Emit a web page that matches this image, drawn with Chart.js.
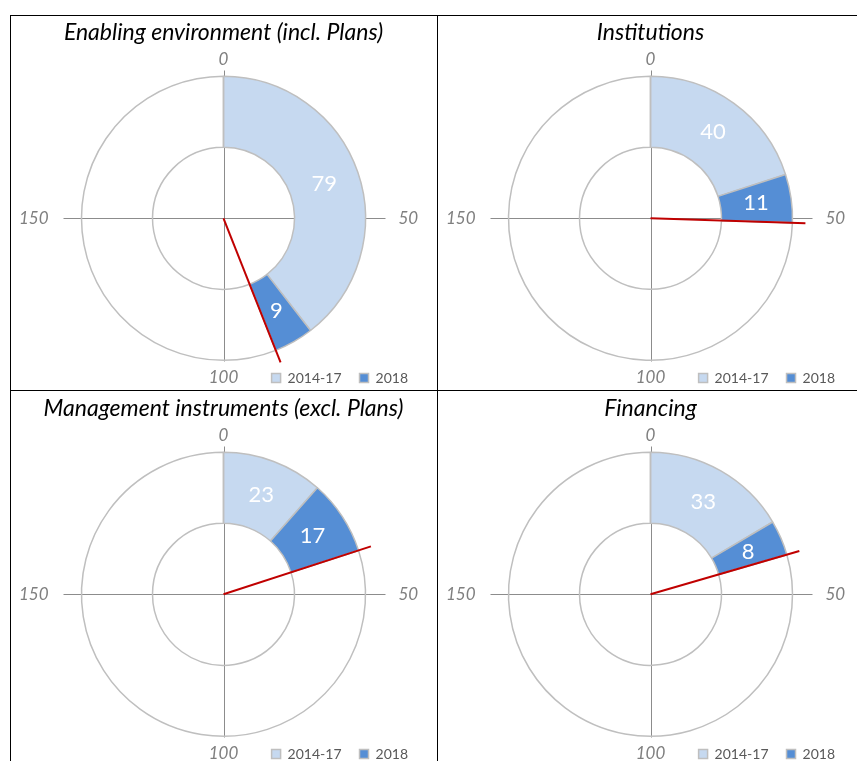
<!DOCTYPE html>
<html>
<head>
<meta charset="utf-8">
<script src="https://cdn.jsdelivr.net/npm/chart.js@4.4.1/dist/chart.umd.min.js"></script>
<style>
  html, body { margin: 0; padding: 0; background: #fff; overflow: hidden; width: 857px; height: 761px; }
  .rule { position: absolute; background: #000; }
  canvas { position: absolute; }
</style>
</head>
<body>
<div class="rule" style="left:10px;top:15px;width:847px;height:1px"></div>
<div class="rule" style="left:10px;top:390px;width:847px;height:1px"></div>
<div class="rule" style="left:10px;top:15px;width:1px;height:746px"></div>
<div class="rule" style="left:437px;top:15px;width:1px;height:746px"></div>

<canvas id="c0" width="427" height="375" style="left:10px;top:15px"></canvas>
<canvas id="c1" width="427" height="375" style="left:437px;top:15px"></canvas>
<canvas id="c2" width="427" height="375" style="left:10px;top:391px"></canvas>
<canvas id="c3" width="427" height="375" style="left:437px;top:391px"></canvas>

<script>
// ---- data ----
const panelTitles = [
    'Enabling environment (incl. Plans)',
    'Institutions',
    'Management instruments (excl. Plans)',
    'Financing'
];
const seriesLabels = ['2014-17', '2018'];
const values2014to17 = [79, 40, 23, 33];
const values2018 = [9, 11, 17, 8];
const markerValues = [88, 51, 40, 41];   // red needle
const scaleMax = 200;                    // one full turn
const tickValues = [0, 50, 100, 150];

// ---- style ----
const FONT = 'Lato, "Open Sans", sans-serif';
const LIGHT = '#c6d9f0';
const DARK = '#558ed5';
const EDGE = '#bfbfbf';
const AXIS = '#8c8c8c';
const RED = '#c00000';

function angleOf(v) {
    return v / scaleMax * Math.PI * 2 - Math.PI / 2;
}

// axis cross, needle, value labels and tick labels around the ring
const gaugeDecor = {
    id: 'gaugeDecor',
    beforeDatasetsDraw(chart) {
        const arc = chart.getDatasetMeta(0).data[0];
        const r = arc.outerRadius;
        const cx = Math.round(arc.x) + 0.5, cy = Math.round(arc.y) + 0.5;
        const ctx = chart.ctx;
        ctx.save();
        ctx.strokeStyle = AXIS;
        ctx.lineWidth = 1;
        ctx.beginPath();
        ctx.moveTo(cx, cy - r - 6);
        ctx.lineTo(cx, cy + r + 1);
        ctx.moveTo(cx - r - 19, cy);
        ctx.lineTo(cx + r + 19, cy);
        ctx.stroke();
        ctx.restore();
    },
    afterDatasetsDraw(chart, args, opts) {
        const meta = chart.getDatasetMeta(0);
        const arc = meta.data[0];
        const r = arc.outerRadius;
        const cx = arc.x, cy = arc.y;
        const ctx = chart.ctx;
        ctx.save();

        // values inside the two coloured segments
        ctx.fillStyle = '#fff';
        ctx.font = '22px ' + FONT;
        ctx.textAlign = 'center';
        ctx.textBaseline = 'middle';
        const vals = chart.data.datasets[0].data;
        for (let i = 0; i < 2; i++) {
            const p = meta.data[i].tooltipPosition();
            ctx.fillText(String(vals[i]), p.x, p.y);
        }

        // needle
        const a = angleOf(opts.marker);
        ctx.strokeStyle = RED;
        ctx.lineWidth = 2;
        ctx.beginPath();
        ctx.moveTo(cx, cy);
        ctx.lineTo(cx + Math.cos(a) * (r + 13), cy + Math.sin(a) * (r + 13));
        ctx.stroke();

        // tick labels
        ctx.fillStyle = '#7f7f7f';
        ctx.font = 'italic 17px ' + FONT;
        tickValues.forEach(t => {
            const ta = angleOf(t);
            const c = Math.cos(ta), s = Math.sin(ta);
            const side = Math.abs(c) > 0.5;
            const d = side ? r + 33 : r + 17;
            ctx.textAlign = c > 0.5 ? 'left' : (c < -0.5 ? 'right' : 'center');
            ctx.fillText(String(t), cx + c * d, cy + s * d);
        });
        ctx.restore();
    }
};

panelTitles.forEach((title, i) => {
    const a = values2014to17[i], b = values2018[i];
    new Chart(document.getElementById('c' + i), {
        type: 'doughnut',
        data: {
            labels: [...seriesLabels, ''],
            datasets: [{
                data: [a, b, scaleMax - a - b],
                backgroundColor: [LIGHT, DARK, 'rgba(255,255,255,0)'],
                borderColor: EDGE,
                borderWidth: 1.5
            }]
        },
        options: {
            responsive: false,
            animation: false,
            events: [],
            radius: 142,
            cutout: '50%',
            layout: { padding: { left: 11, right: 11, top: 0, bottom: -5 } },
            plugins: {
                title: {
                    display: true,
                    text: title,
                    color: '#000',
                    font: { family: FONT, size: 23, style: 'italic', weight: 'normal' },
                    padding: { top: 3.5, bottom: 37.5 }
                },
                legend: {
                    position: 'bottom',
                    align: 'end',
                    labels: {
                        filter: item => item.index < 2,
                        boxWidth: 9,
                        boxHeight: 9,
                        padding: 18,
                        color: '#595959',
                        font: { family: FONT, size: 14 }
                    }
                },
                tooltip: { enabled: false },
                gaugeDecor: { marker: markerValues[i] }
            }
        },
        plugins: [gaugeDecor]
    });
});
</script>
</body>
</html>
